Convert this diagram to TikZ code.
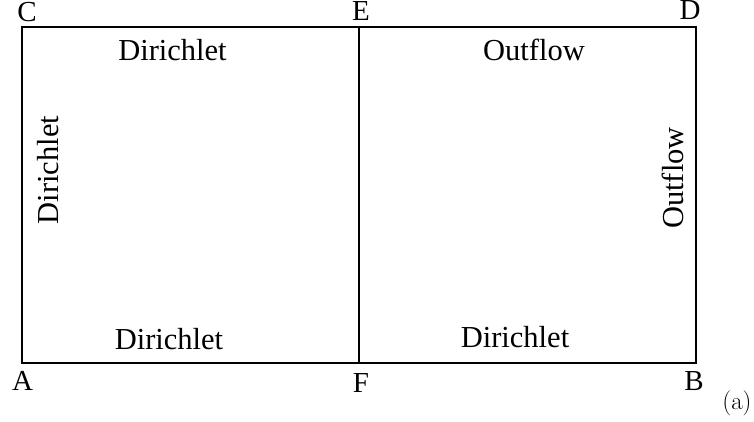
\documentclass[tikz,border=0pt]{standalone}
\usepackage{fontspec}
\newfontfamily\timesfont{Liberation Serif}
\begin{document}
\begin{tikzpicture}[x=1pt,y=-1pt,
  lbl/.style={font=\timesfont\fontsize{30.5}{34}\selectfont, inner sep=0pt, anchor=base},
  corner/.style={font=\timesfont\fontsize{29}{32}\selectfont, inner sep=0pt, anchor=base},
  edge/.style={line width=2pt}]
\useasboundingbox (0,0) rectangle (754,421);
\coordinate (A) at (22,363);
\coordinate (B) at (696,363);
\coordinate (C) at (22,27);
\coordinate (D) at (696,27);
\coordinate (E) at (359,27);
\coordinate (F) at (359,363);
\draw[edge] (A) -- (B) -- (D) -- (C) -- cycle;
\draw[edge] (E) -- (F);
\node[corner] (lC) at (27,21) {C};
\node[corner] (lE) at (361,20.5) {E};
\node[corner] (lD) at (690,19.5) {D};
\node[corner] (lA) at (22.5,390) {A};
\node[corner] (lF) at (361,392) {F};
\node[corner] (lB) at (694,390) {B};
\node[font=\fontsize{25}{29}\selectfont, inner sep=0pt, anchor=base] (cap) at (737,409) {(a)};
\node[lbl] (t1) at (172.5,60) {Dirichlet};
\node[lbl] (t2) at (534,60) {Outflow};
\node[lbl] (b1) at (169,349) {Dirichlet};
\node[lbl] (b2) at (515,347) {Dirichlet};
\node[lbl, rotate=90] (l1) at (58,170) {Dirichlet};
\node[lbl, rotate=90] (r1) at (683,178) {Outflow};
\end{tikzpicture}
\end{document}
